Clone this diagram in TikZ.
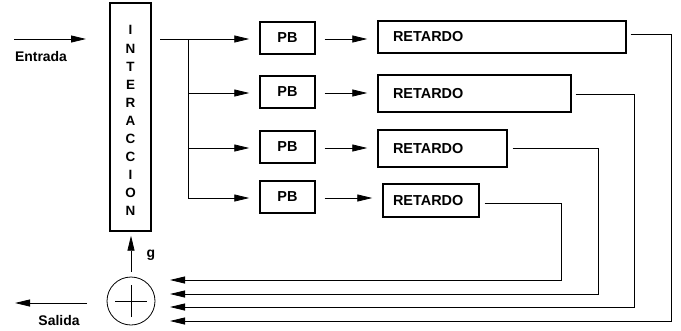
\documentclass[tikz,border=0pt]{standalone}
\usepackage{fontspec}
\setmainfont{Liberation Sans}
\usetikzlibrary{arrows.meta}
\tikzset{
  box/.style={draw, line width=1.4bp, inner sep=0pt},
  conn/.style={line width=0.8bp},
  arr/.style={conn, -{Triangle[length=15bp,width=7bp]}},
  lbl/.style={font=\bfseries\fontsize{14}{15}\selectfont, inner sep=0pt},
  big/.style={font=\bfseries\fontsize{14.5}{16}\selectfont},
}
\begin{document}
\begin{tikzpicture}[x=1bp,y=-1bp]
\useasboundingbox (0,0) rectangle (681,330);
% interaction box
\node[box, minimum width=41bp, minimum height=228bp] (inter) at (130.5,117) {};
\node[lbl, align=center, font=\bfseries\fontsize{13.5}{18.1}\selectfont] (intertxt) at (130.5,120.5)
  {I\\N\\T\\E\\R\\A\\C\\C\\I\\O\\N};
% input
\coordinate (inA) at (14,39);
\coordinate (inB) at (86,39);
\draw[arr] (inA) -- (inB);
\node[lbl] (entrada) at (41,57) {Entrada};
% branch
\coordinate (o0) at (160,39);
\coordinate (b1) at (188,39);
\coordinate (b2) at (188,93);
\coordinate (b3) at (188,148);
\coordinate (b4) at (188,198);
\draw[conn] (o0) -- (b1) -- (b4);
% PB boxes
\node[box, big, minimum width=55bp, minimum height=32bp] (pb1) at (287.5,38) {PB};
\node[box, big, minimum width=55bp, minimum height=32bp] (pb2) at (287.5,92) {PB};
\node[box, big, minimum width=55bp, minimum height=32bp] (pb3) at (287.5,147) {PB};
\node[box, big, minimum width=55bp, minimum height=32bp] (pb4) at (287.5,197) {PB};
\draw[arr, shorten >=10bp] (b1) -- (pb1.west |- b1);
\draw[arr, shorten >=10bp] (b2) -- (pb2.west |- b2);
\draw[arr, shorten >=10bp] (b3) -- (pb3.west |- b3);
\draw[arr, shorten >=10bp] (b4) -- (pb4.west |- b4);
% RETARDO boxes
\node[box, big, minimum width=248bp, minimum height=32bp, inner xsep=15bp, text width=218bp, align=left] (r1) at (502,37) {RETARDO};
\node[box, big, minimum width=193bp, minimum height=37bp, inner xsep=15bp, text width=163bp, align=left] (r2) at (474.5,93.5) {RETARDO};
\node[box, big, minimum width=129bp, minimum height=37bp, inner xsep=15bp, text width=99bp, align=left] (r3) at (442.5,148.5) {RETARDO};
\node[box, big, minimum width=96bp, minimum height=33bp, inner xsep=10bp, text width=76bp, align=left] (r4) at (431,200.5) {RETARDO};
\draw[arr, shorten <=9bp, shorten >=10bp] (pb1.east |- b1) -- (r1.west |- b1);
\draw[arr, shorten <=9bp, shorten >=10bp] (pb2.east |- b2) -- (r2.west |- b2);
\draw[arr, shorten <=9bp, shorten >=10bp] (pb3.east |- b3) -- (r3.west |- b3);
\draw[arr, shorten <=9bp, shorten >=10bp] (pb4.east |- b4) -- (r4.west |- b4);
% summation
\node[draw, conn, circle, minimum size=48bp, inner sep=0pt] (sum) at (131,301) {};
\draw[conn] ([xshift=-16bp]sum.center) -- ([xshift=16bp]sum.center);
\draw[conn] ([yshift=-16bp]sum.center) -- ([yshift=16bp]sum.center);
\draw[arr, shorten <=5bp, shorten >=4bp] (sum.north) -- (inter.south -| sum.north);
\node[lbl] (g) at (151,255) {g};
% output
\coordinate (outA) at (87,303);
\coordinate (outB) at (15,303);
\draw[arr] (outA) -- (outB);
\node[lbl] (salida) at (59,321) {Salida};
% feedback
\coordinate (f1) at (170,321);
\coordinate (f2) at (170,307);
\coordinate (f3) at (170,294);
\coordinate (f4) at (170,280);
\draw[arr] ([xshift=4bp]r1.east |- 0,34) -- (671,34) -- (671,321) -- (f1);
\draw[arr] ([xshift=4bp]r2.east |- 0,94) -- (634,94) -- (634,307) -- (f2);
\draw[arr] ([xshift=5bp]r3.east |- 0,148) -- (598,148) -- (598,294) -- (f3);
\draw[arr] ([xshift=5bp]r4.east |- 0,203) -- (561,203) -- (561,280) -- (f4);
\end{tikzpicture}
\end{document}
